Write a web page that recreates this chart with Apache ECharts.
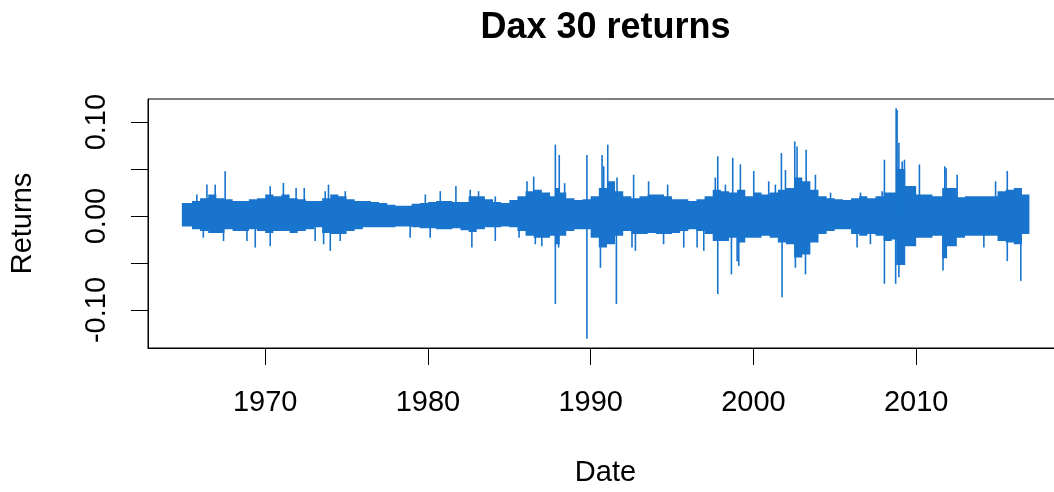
<!DOCTYPE html>
<html>
<head>
<meta charset="utf-8">
<script src="https://cdn.jsdelivr.net/npm/echarts@6/dist/echarts.min.js"></script>
<style>
  html, body { margin: 0; padding: 0; background: #ffffff; overflow: hidden; width: 1054px; height: 492px; }
  #chart { width: 1075px; height: 492px; }
</style>
</head>
<body>
<div id="chart"></div>
<script>
// ---- Data ----
// Dense core of the daily-return band: bucket edges (years), upper and lower extent
const coreEdges = [
  1964.88, 1965.5, 1966.0, 1966.5, 1967.0, 1967.5, 1968.0, 1968.5, 1969.0, 1969.5,
  1970.0, 1970.5, 1971.0, 1971.5, 1972.0, 1972.5, 1973.0, 1973.5, 1974.0, 1974.5,
  1975.0, 1975.5, 1976.0, 1976.5, 1977.0, 1977.5, 1978.0, 1978.5, 1979.0, 1979.5,
  1980.0, 1980.5, 1981.0, 1981.5, 1982.0, 1982.5, 1983.0, 1983.5, 1984.0, 1984.5,
  1985.0, 1985.5, 1986.0, 1986.5, 1987.0, 1987.5, 1987.8, 1988.1, 1988.5, 1989.0,
  1989.5, 1990.0, 1990.5, 1991.0, 1991.5, 1992.0, 1992.5, 1993.0, 1993.5, 1994.0,
  1994.5, 1995.0, 1995.5, 1996.0, 1996.5, 1997.0, 1997.5, 1998.0, 1998.5, 1999.0,
  1999.5, 2000.0, 2000.5, 2001.0, 2001.5, 2002.0, 2002.5, 2003.0, 2003.5, 2004.0,
  2004.5, 2005.0, 2005.5, 2006.0, 2006.5, 2007.0, 2007.5, 2008.0, 2008.5, 2008.77,
  2009.33, 2010.0, 2010.5, 2011.0, 2011.5, 2011.6, 2011.9, 2012.5, 2013.0, 2013.5,
  2014.0, 2014.5, 2015.0, 2015.5, 2016.0, 2016.5, 2016.96
];
const coreHi = [
  0.014, 0.016, 0.019, 0.023, 0.019, 0.018, 0.016, 0.016, 0.018, 0.019,
  0.023, 0.021, 0.023, 0.019, 0.018, 0.016, 0.016, 0.019, 0.023, 0.021,
  0.018, 0.016, 0.016, 0.015, 0.014, 0.012, 0.011, 0.011, 0.013, 0.014,
  0.015, 0.016, 0.016, 0.015, 0.015, 0.021, 0.021, 0.018, 0.015, 0.014,
  0.017, 0.021, 0.0265, 0.028, 0.025, 0.021, 0.030, 0.025, 0.019, 0.017,
  0.018, 0.021, 0.030, 0.037, 0.0265, 0.021, 0.019, 0.021, 0.023, 0.023,
  0.021, 0.018, 0.018, 0.016, 0.018, 0.021, 0.028, 0.0265, 0.025, 0.028,
  0.021, 0.025, 0.023, 0.025, 0.028, 0.030, 0.041, 0.037, 0.028, 0.021,
  0.019, 0.018, 0.017, 0.019, 0.021, 0.019, 0.021, 0.025, 0.025, 0.050,
  0.032, 0.023, 0.023, 0.021, 0.021, 0.030, 0.030, 0.020, 0.021, 0.021,
  0.021, 0.021, 0.0265, 0.028, 0.030, 0.023
];
const coreLo = [
  -0.011, -0.014, -0.016, -0.018, -0.018, -0.014, -0.016, -0.016, -0.014, -0.016,
  -0.018, -0.016, -0.016, -0.018, -0.016, -0.014, -0.012, -0.018, -0.019, -0.019,
  -0.016, -0.014, -0.012, -0.012, -0.012, -0.012, -0.011, -0.011, -0.012, -0.013,
  -0.013, -0.014, -0.014, -0.013, -0.015, -0.017, -0.014, -0.012, -0.012, -0.011,
  -0.012, -0.016, -0.021, -0.023, -0.023, -0.021, -0.030, -0.021, -0.016, -0.014,
  -0.014, -0.023, -0.0335, -0.030, -0.021, -0.016, -0.019, -0.019, -0.018, -0.019,
  -0.019, -0.018, -0.016, -0.014, -0.016, -0.019, -0.0265, -0.0265, -0.023, -0.028,
  -0.023, -0.023, -0.021, -0.023, -0.028, -0.030, -0.044, -0.041, -0.028, -0.019,
  -0.016, -0.014, -0.014, -0.019, -0.021, -0.019, -0.021, -0.0265, -0.025, -0.052,
  -0.032, -0.023, -0.023, -0.021, -0.021, -0.045, -0.032, -0.023, -0.021, -0.021,
  -0.021, -0.021, -0.0265, -0.028, -0.030, -0.019
];
// Isolated daily returns sticking out of the band
const spikeYears = [
  1965.8, 1966.42, 1966.93, 1967.54, 1966.2, 1967.44, 1968.88, 1969.39, 1970.31, 1970.31, 1971.12, 1971.9, 1972.4,
  1973.07, 1973.59, 1973.69, 1973.89, 1974.0, 1974.61, 1974.92, 1978.91, 1979.84, 1980.14, 1980.76,
  1981.72, 1982.6, 1982.7, 1983.11, 1984.14, 1984.14, 1985.6, 1986.09, 1986.5, 1986.6, 1987.0, 1987.83, 1987.83, 1988.03, 1988.07, 1988.4,
  1989.77, 1989.77, 1990.6, 1990.7, 1990.8, 1991.05, 1991.58, 1991.62, 1992.54, 1992.64, 1992.75, 1993.56, 1994.48, 1994.73, 1995.72, 1996.54, 1996.95, 1997.66, 1997.81, 1997.81,
  1998.28, 1998.65, 1998.73, 1999.0, 1999.1, 1999.2, 2000.02, 2000.94, 2001.35, 2001.72, 2001.76, 2001.97, 2002.54, 2002.58, 2002.68, 2003.2, 2003.24, 2003.81, 2004.74,
  2006.37, 2006.58, 2007.19, 2007.91, 2008.05, 2008.05, 2008.74, 2008.77, 2008.83, 2008.94, 2008.94, 2009.04, 2009.14, 2009.28, 2010.2, 2011.65, 2011.76, 2011.84, 2012.52, 2014.16, 2014.88, 2015.6, 2015.6, 2016.43
];
const spikeValues = [
  0.023, 0.0335, 0.0335, 0.0477, -0.023, -0.0265, -0.0265, -0.0335, -0.032, 0.0318, 0.0353, 0.030, 0.030,
  -0.0265, -0.030, 0.0265, 0.0335, -0.037, -0.0265, 0.0265, -0.023, 0.023, -0.023, 0.0265,
  0.032, 0.028, -0.0335, 0.0265, 0.021, -0.0265, -0.023, 0.037, 0.042, -0.030, -0.032, 0.076, -0.0936, -0.0335, 0.065, 0.035,
  0.065, -0.1306, -0.055, 0.065, 0.053, 0.076, -0.0936, 0.041, -0.0335, 0.044, -0.037, 0.037, -0.030, 0.0335, -0.0335, -0.0335, -0.037, 0.041, 0.0636, -0.083,
  0.0335, -0.062, 0.062, -0.048, -0.053, 0.055, 0.048, 0.037, 0.0335, 0.067, -0.0865, 0.049, 0.0795, -0.055, 0.074, -0.062, 0.0706, 0.044, 0.025,
  -0.0335, 0.025, -0.030, 0.0265, 0.060, -0.072, -0.072, 0.1148, 0.113, 0.078, -0.065, -0.051, 0.058, 0.060, 0.055, -0.058, 0.053, 0.051, 0.044, -0.0335, 0.037, 0.048, -0.048, -0.069
];
const xTickValues = [1970, 1980, 1990, 2000, 2010];
const yTickValues = [-0.10, -0.05, 0.00, 0.05, 0.10];
const yLabelValues = [-0.10, 0.00, 0.10];

// ---- Chart ----
const LINE = '#1874CD';
const FONT = '"Liberation Sans", Arial, sans-serif';

const coreData = coreHi.map((h, i) => [coreEdges[i], coreEdges[i + 1], coreLo[i], h]);
const spikeData = spikeYears.map((y, i) => [y, spikeValues[i]]);

const chart = echarts.init(document.getElementById('chart'), null, { renderer: 'canvas' });
chart.setOption({
  animation: false,
  backgroundColor: '#ffffff',
  grid: {
    left: 148, top: 99, width: 915.6, height: 249,
    show: true, borderColor: '#000', borderWidth: 1, backgroundColor: 'transparent'
  },
  xAxis: {
    type: 'value', min: 1962.80, max: 2019.06,
    axisLine: { show: true, onZero: false, lineStyle: { color: '#000', width: 1 } },
    splitLine: { show: false },
    axisTick: { show: true, inside: false, length: 17, customValues: xTickValues, lineStyle: { color: '#000', width: 1 } },
    axisLabel: { show: true, customValues: xTickValues, margin: 40, fontSize: 29, color: '#000', fontFamily: FONT,
      formatter: v => String(Math.round(v)) }
  },
  yAxis: {
    type: 'value', min: -0.1404, max: 0.1246,
    axisLine: { show: true, onZero: false, lineStyle: { color: '#000', width: 1 } },
    splitLine: { show: false },
    axisTick: { show: true, inside: false, length: 17, customValues: yTickValues, lineStyle: { color: '#000', width: 1 } },
    axisLabel: { show: true, customValues: yLabelValues, rotate: 90, margin: 37, fontSize: 29, color: '#000', fontFamily: FONT,
      formatter: v => v.toFixed(2) }
  },
  graphic: [
    { type: 'text', x: 605.5, y: 28, style: { text: 'Dax 30 returns', font: 'bold 36px ' + FONT, fill: '#000', align: 'center', verticalAlign: 'middle' } },
    { type: 'text', x: 605.5, y: 473, style: { text: 'Date', font: '29px ' + FONT, fill: '#000', align: 'center', verticalAlign: 'middle' } },
    { type: 'text', x: 23, y: 223.5, rotation: Math.PI / 2, style: { text: 'Returns', font: '29px ' + FONT, fill: '#000', align: 'center', verticalAlign: 'middle' } }
  ],
  series: [
    {
      // one seamless stepped polygon for the dense core of the band
      type: 'custom', clip: true, data: coreData,
      renderItem: (params, api) => {
        if (params.dataIndex !== 0) return null;
        const top = [], bottom = [];
        coreData.forEach(d => {
          top.push(api.coord([d[0], d[3]]), api.coord([d[1], d[3]]));
          bottom.push(api.coord([d[0], d[2]]), api.coord([d[1], d[2]]));
        });
        const pts = top.concat(bottom.reverse());
        return { type: 'polygon', shape: { points: pts }, style: { fill: LINE } };
      }
    },
    {
      type: 'custom', clip: true, data: spikeData,
      renderItem: (params, api) => {
        const a = api.coord([api.value(0), 0]);
        const b = api.coord([api.value(0), api.value(1)]);
        return { type: 'line', shape: { x1: a[0], y1: a[1], x2: b[0], y2: b[1] }, style: { stroke: LINE, lineWidth: 1.6 } };
      }
    }
  ]
});
</script>
</body>
</html>
